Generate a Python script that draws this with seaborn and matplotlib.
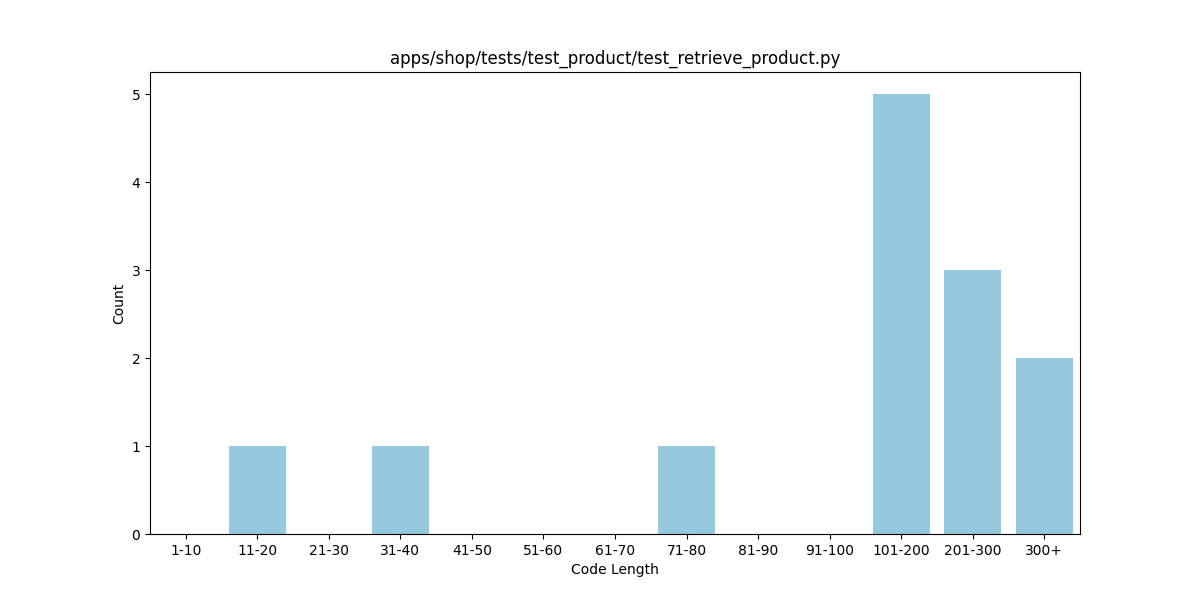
import matplotlib
matplotlib.use("Agg")
import matplotlib.pyplot as plt
import seaborn as sns
import pandas as pd

# Code length bins and counts
bins = ['1-10', '11-20', '21-30', '31-40', '41-50', '51-60', '61-70',
        '71-80', '81-90', '91-100', '101-200', '201-300', '300+']
counts = [0, 1, 0, 1, 0, 0, 0, 1, 0, 0, 5, 3, 2]

df = pd.DataFrame({'Code Length': bins, 'Count': counts})

plt.figure(figsize=(12, 6))
sns.barplot(data=df, x='Code Length', y='Count', color='skyblue')
plt.title('apps/shop/tests/test_product/test_retrieve_product.py')
plt.xlabel('Code Length')
plt.ylabel('Count')
plt.savefig('out.png', dpi=100)
